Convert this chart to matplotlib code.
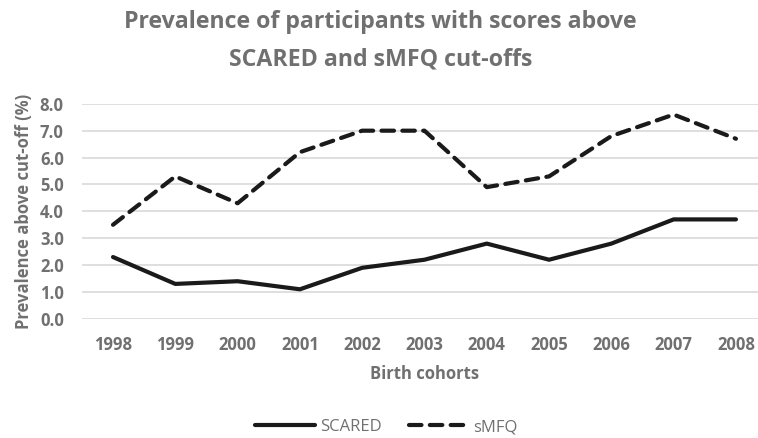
import numpy as np
import matplotlib.pyplot as plt

years = ['1998', '1999', '2000', '2001', '2002', '2003', '2004', '2005', '2006', '2007', '2008']
scared = [2.3, 1.3, 1.4, 1.1, 1.9, 2.2, 2.8, 2.2, 2.8, 3.7, 3.7]
smfq = [3.5, 5.3, 4.3, 6.2, 7.0, 7.0, 4.9, 5.3, 6.8, 7.6, 6.7]

grey = '#707070'
plt.rcParams['font.family'] = ['Open Sans', 'DejaVu Sans']

fig = plt.figure(figsize=(7.58, 4.38), dpi=100)
ax = fig.add_axes([0.108, 0.272, 0.904, 0.491])

x = np.arange(len(years))
ax.plot(x, scared, color='#1a1a1a', lw=3.0, solid_capstyle='round', label='SCARED')
ax.plot(x, smfq, color='#1a1a1a', lw=3.0, dashes=(3.0, 2.0), dash_capstyle='round', label='sMFQ')

ax.set_xlim(-0.5, 10.5)
ax.set_ylim(0, 8)
ax.set_yticks(np.arange(0, 8.1, 1))
ax.set_yticklabels(['%.1f' % v for v in np.arange(0, 8.1, 1)])
ax.set_xticks(x)
ax.set_xticklabels(years)
ax.grid(axis='y', color='#d9d9d9', lw=1.2)
ax.set_axisbelow(True)
for s in ax.spines.values():
    s.set_visible(False)
ax.tick_params(length=0, labelsize=12, labelcolor=grey)
ax.tick_params(axis='x', pad=12)
ax.tick_params(axis='y', pad=13)
for lbl in ax.get_xticklabels() + ax.get_yticklabels():
    lbl.set_fontweight('bold')

ax.set_xlabel('Birth cohorts', fontsize=12, fontweight='bold', color=grey, labelpad=8)
ax.set_ylabel('Prevalence above cut-off (%)', fontsize=12, fontweight='bold', color=grey, labelpad=5)

fig.text(0.502, 0.978, 'Prevalence of participants with scores above\nSCARED and sMFQ cut-offs',
         ha='center', va='top', fontsize=16.7, fontweight='bold', color=grey, linespacing=1.75)

fig.legend(loc='center', bbox_to_anchor=(0.51, 0.025), ncol=2, frameon=False,
           fontsize=12, labelcolor=grey, handlelength=3.6, handletextpad=0.3, columnspacing=1.6)

fig.savefig('out.png', dpi=100)
